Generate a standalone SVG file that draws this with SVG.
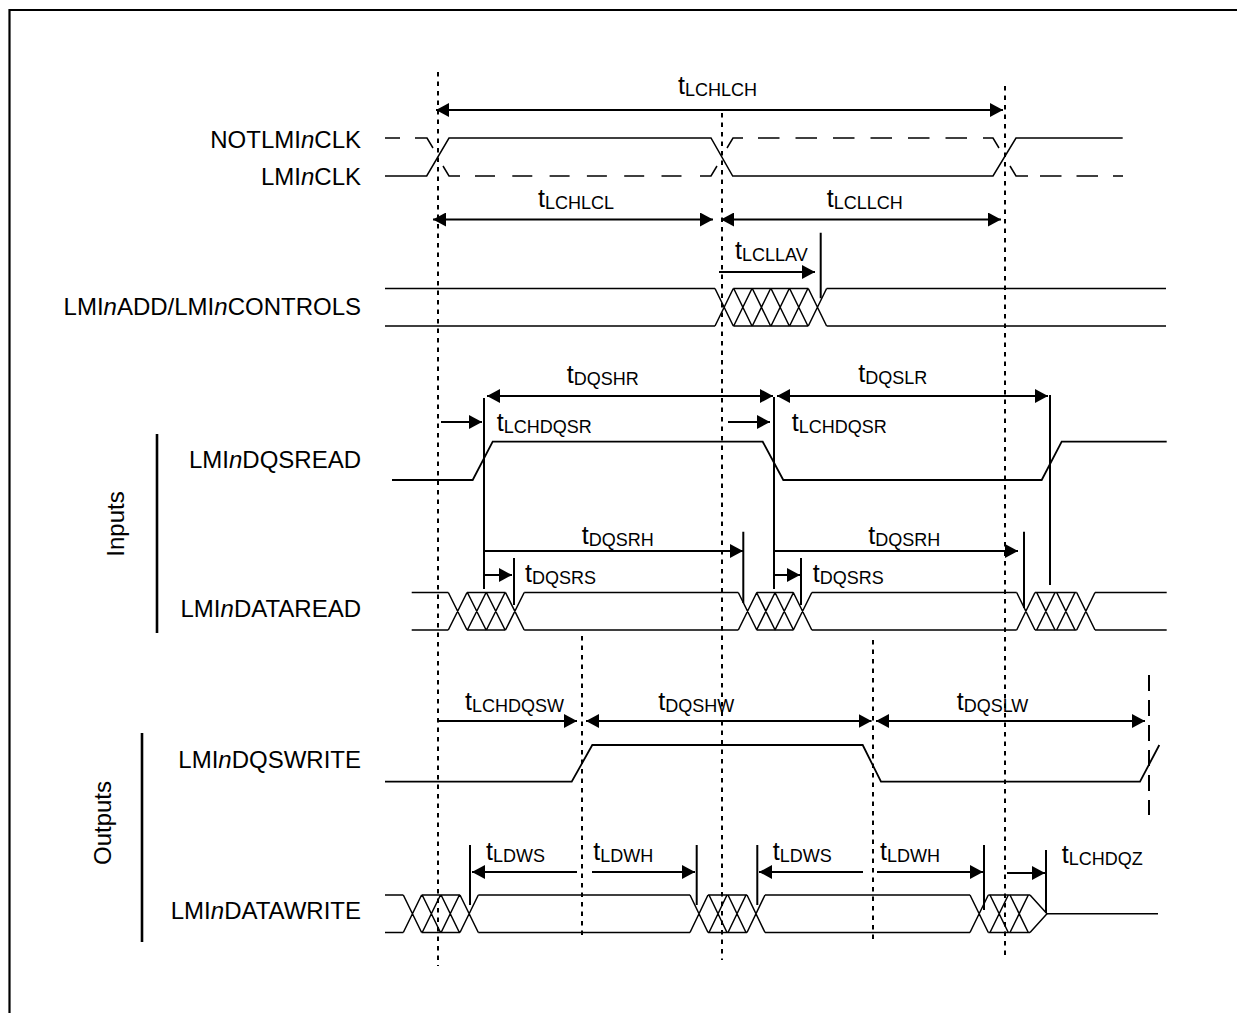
<svg xmlns="http://www.w3.org/2000/svg" width="1237" height="1013" viewBox="0 0 1237 1013">
<defs>
<style>
.sig{stroke:#000;stroke-width:1.5;fill:none}
.dq{stroke:#000;stroke-width:1.8;fill:none}
.dsh{stroke:#000;stroke-width:1.5;fill:none}
.dot{stroke:#000;stroke-width:2;stroke-dasharray:4.5 5;fill:none}
.arr{stroke:#000;stroke-width:2;fill:none}
.bar{stroke:#000;stroke-width:2;fill:none}
.grp{stroke:#000;stroke-width:2.6;fill:none}
text{font-family:"Liberation Sans",Arial,Helvetica,sans-serif;fill:#000}
.lbl{font-size:24px}
.tl{font-size:25px}
.sub{font-size:18px}
</style>
<marker id="ah" viewBox="0 0 13 14" refX="13" refY="7" markerWidth="13" markerHeight="14" markerUnits="userSpaceOnUse" orient="auto-start-reverse">
<path d="M0,0 L13,7 L0,14 z" fill="#000"/>
</marker>
</defs>
<rect width="1237" height="1013" fill="#fff"/>
<path d="M9.5,1013 V10 H1237" stroke="#000" stroke-width="2.2" fill="none"/>

<g id="guides">
<path class="dot" d="M438,72V966"/>
<path class="dot" d="M722,113V960"/>
<path class="dot" d="M1005,86V960"/>
<path class="dot" d="M582,636V940"/>
<path class="dot" d="M873,640V940"/>
<path d="M1149,675V815" stroke="#000" stroke-width="2" stroke-dasharray="16 9" fill="none"/>
</g>

<g id="groups">
<path class="grp" d="M157,434V633"/>
<text class="lbl" transform="translate(124,524) rotate(-90)" text-anchor="middle">Inputs</text>
<path class="grp" d="M142,733V942"/>
<text class="lbl" transform="translate(111,823) rotate(-90)" text-anchor="middle">Outputs</text>
</g>

<g id="notclk">
<text class="lbl" x="361" y="148" text-anchor="end">NOTLMI<tspan font-style="italic">n</tspan>CLK</text>
<path class="dsh" d="M385,138H400"/>
<path class="dsh" d="M415,138H427L433,148 M443,166L449,176H460 M700,176H711L717,166 M727,148L733,138H743 M983,138H993L999,148 M1010,166L1016,176H1028"/>
<path class="dsh" d="M475,176H682" stroke-dasharray="20 17.3"/>
<path class="dsh" d="M758,138H967" stroke-dasharray="21.5 16"/>
<path class="dsh" d="M1040,176H1123" stroke-dasharray="21.5 15"/>
</g>

<g id="clk">
<text class="lbl" x="361" y="185" text-anchor="end">LMI<tspan font-style="italic">n</tspan>CLK</text>
<path class="sig" d="M385,176H426.7L449,138H711L732.7,176H993L1016,138H1122.7"/>
</g>

<g id="addctl">
<text class="lbl" x="361" y="315" text-anchor="end">LMI<tspan font-style="italic">n</tspan>ADD/LMI<tspan font-style="italic">n</tspan>CONTROLS</text>
<path class="sig" d="M385,288.5H715 M733.3,288.5H808.3 M826.6,288.5H1166 M385,326H715 M733.3,326H808.3 M826.6,326H1166"/>
<path class="sig" stroke-width="1.2" d="M715,288.5L733.3,326 M715,326L733.3,288.5 M733.7,288.5L752,326 M733.7,326L752,288.5 M752.3,288.5L770.6,326 M752.3,326L770.6,288.5 M771,288.5L789.3,326 M771,326L789.3,288.5 M789.6,288.5L807.9,326 M789.6,326L807.9,288.5 M808.3,288.5L826.6,326 M808.3,326L826.6,288.5"/>
</g>

<g id="dqsread">
<text class="lbl" x="361" y="468" text-anchor="end">LMI<tspan font-style="italic">n</tspan>DQSREAD</text>
<path class="dq" d="M392,480H472.7L492.7,441.7H762.7L783.3,480H1041.7L1061.7,441.7H1166.7"/>
</g>

<g id="dataread">
<text class="lbl" x="361" y="617" text-anchor="end">LMI<tspan font-style="italic">n</tspan>DATAREAD</text>
<path class="sig" d="M411.7,592.5H448.3 M467,592.5H505.5 M524.2,592.5H738.3 M756.8,592.5H793.3 M811.8,592.5H1016.7 M1035,592.5H1076.7 M1095,592.5H1166.7 M411.7,630H448.3 M467,630H505.5 M524.2,630H738.3 M756.8,630H793.3 M811.8,630H1016.7 M1035,630H1076.7 M1095,630H1166.7"/>
<path class="sig" stroke-width="1.2" d="M448.3,592.5L467,630 M448.3,630L467,592.5 M467.4,592.5L486.1,630 M467.4,630L486.1,592.5 M486.4,592.5L505.1,630 M486.4,630L505.1,592.5 M505.5,592.5L524.2,630 M505.5,630L524.2,592.5 M738.3,592.5L756.8,630 M738.3,630L756.8,592.5 M756.6,592.5L775.1,630 M756.6,630L775.1,592.5 M775,592.5L793.5,630 M775,630L793.5,592.5 M793.3,592.5L811.8,630 M793.3,630L811.8,592.5 M1016.7,592.5L1035,630 M1016.7,630L1035,592.5 M1036.7,592.5L1055,630 M1036.7,630L1055,592.5 M1056.7,592.5L1075,630 M1056.7,630L1075,592.5 M1076.7,592.5L1095,630 M1076.7,630L1095,592.5"/>
</g>

<g id="dqswrite">
<text class="lbl" x="361" y="768" text-anchor="end">LMI<tspan font-style="italic">n</tspan>DQSWRITE</text>
<path class="dq" d="M385,781.7H571.7L592.3,745H862.7L881,781.7H1140L1159.3,745"/>
</g>

<g id="datawrite">
<text class="lbl" x="361" y="919" text-anchor="end">LMI<tspan font-style="italic">n</tspan>DATAWRITE</text>
<path class="sig" d="M385,895H403.3 M421.6,895H460 M478.3,895H690 M708,895H747 M765,895H970 M988.3,895H1030 M385,932.5H403.3 M421.6,932.5H460 M478.3,932.5H690 M708,932.5H747 M765,932.5H970 M988.3,932.5H1030 M1047,913.7H1158"/>
<path class="sig" stroke-width="1.2" d="M403.3,895L421.6,932.5 M403.3,932.5L421.6,895 M422.2,895L440.5,932.5 M422.2,932.5L440.5,895 M441.1,895L459.4,932.5 M441.1,932.5L459.4,895 M460,895L478.3,932.5 M460,932.5L478.3,895 M690,895L708,932.5 M690,932.5L708,895 M709,895L727,932.5 M709,932.5L727,895 M728,895L746,932.5 M728,932.5L746,895 M747,895L765,932.5 M747,932.5L765,895 M970,895L988.3,932.5 M970,932.5L988.3,895 M990,895L1008.3,932.5 M990,932.5L1008.3,895 M1010,895L1028.3,932.5 M1010,932.5L1028.3,895 M1030,895L1047,913.7 M1030,932.5L1047,913.7"/>
</g>

<g id="connectors">
<g class="arr" marker-end="url(#ah)">
<path d="M436,110H1003" marker-start="url(#ah)"/>
<path d="M433,219.5H713" marker-start="url(#ah)"/>
<path d="M721,219.5H1001" marker-start="url(#ah)"/>
<path d="M719,272H815"/>
<path d="M487,396H773" marker-start="url(#ah)"/>
<path d="M777,396H1048" marker-start="url(#ah)"/>
<path d="M441,422H482"/>
<path d="M728,422H770"/>
<path d="M485,551H743"/>
<path d="M775,551H1018"/>
<path d="M485,575H512"/>
<path d="M775,575H800"/>
<path d="M438,721H577"/>
<path d="M586,721H871.5" marker-start="url(#ah)"/>
<path d="M876,721H1145" marker-start="url(#ah)"/>
<path d="M577,872H472"/>
<path d="M592,872H695"/>
<path d="M863,872H759"/>
<path d="M877,872H983"/>
<path d="M1007,873H1045"/>
</g>
<path class="bar" d="M820.7,232.7V298.3 M484,398V589 M774,397V589 M1050,395V585 M743.3,531.7V603 M1024,531.7V608 M514,558V605 M801,558V605 M470,845V905 M696.7,845V905 M757.3,845V905 M984,845V910 M1046,850V913"/>
</g>

<g id="timing-labels">
<text class="tl" x="678" y="94">t<tspan class="sub" dy="2">LCHLCH</tspan></text>
<text class="tl" x="538" y="207">t<tspan class="sub" dy="2">LCHLCL</tspan></text>
<text class="tl" x="826.7" y="207">t<tspan class="sub" dy="2">LCLLCH</tspan></text>
<text class="tl" x="735" y="258.5">t<tspan class="sub" dy="2">LCLLAV</tspan></text>
<text class="tl" x="566.7" y="383">t<tspan class="sub" dy="2">DQSHR</tspan></text>
<text class="tl" x="858.3" y="382">t<tspan class="sub" dy="2">DQSLR</tspan></text>
<text class="tl" x="496.7" y="430.5">t<tspan class="sub" dy="2">LCHDQSR</tspan></text>
<text class="tl" x="791.7" y="430.5">t<tspan class="sub" dy="2">LCHDQSR</tspan></text>
<text class="tl" x="581.7" y="543.5">t<tspan class="sub" dy="2">DQSRH</tspan></text>
<text class="tl" x="868.3" y="543.5">t<tspan class="sub" dy="2">DQSRH</tspan></text>
<text class="tl" x="525" y="582">t<tspan class="sub" dy="2">DQSRS</tspan></text>
<text class="tl" x="812.7" y="582">t<tspan class="sub" dy="2">DQSRS</tspan></text>
<text class="tl" x="465" y="709.5">t<tspan class="sub" dy="2">LCHDQSW</tspan></text>
<text class="tl" x="658.3" y="709.5">t<tspan class="sub" dy="2">DQSHW</tspan></text>
<text class="tl" x="956.7" y="709.5">t<tspan class="sub" dy="2">DQSLW</tspan></text>
<text class="tl" x="486" y="859.5">t<tspan class="sub" dy="2">LDWS</tspan></text>
<text class="tl" x="593.3" y="859.5">t<tspan class="sub" dy="2">LDWH</tspan></text>
<text class="tl" x="772.7" y="859.5">t<tspan class="sub" dy="2">LDWS</tspan></text>
<text class="tl" x="880" y="859.5">t<tspan class="sub" dy="2">LDWH</tspan></text>
<text class="tl" x="1061.7" y="862.5">t<tspan class="sub" dy="2">LCHDQZ</tspan></text>
</g>
</svg>
